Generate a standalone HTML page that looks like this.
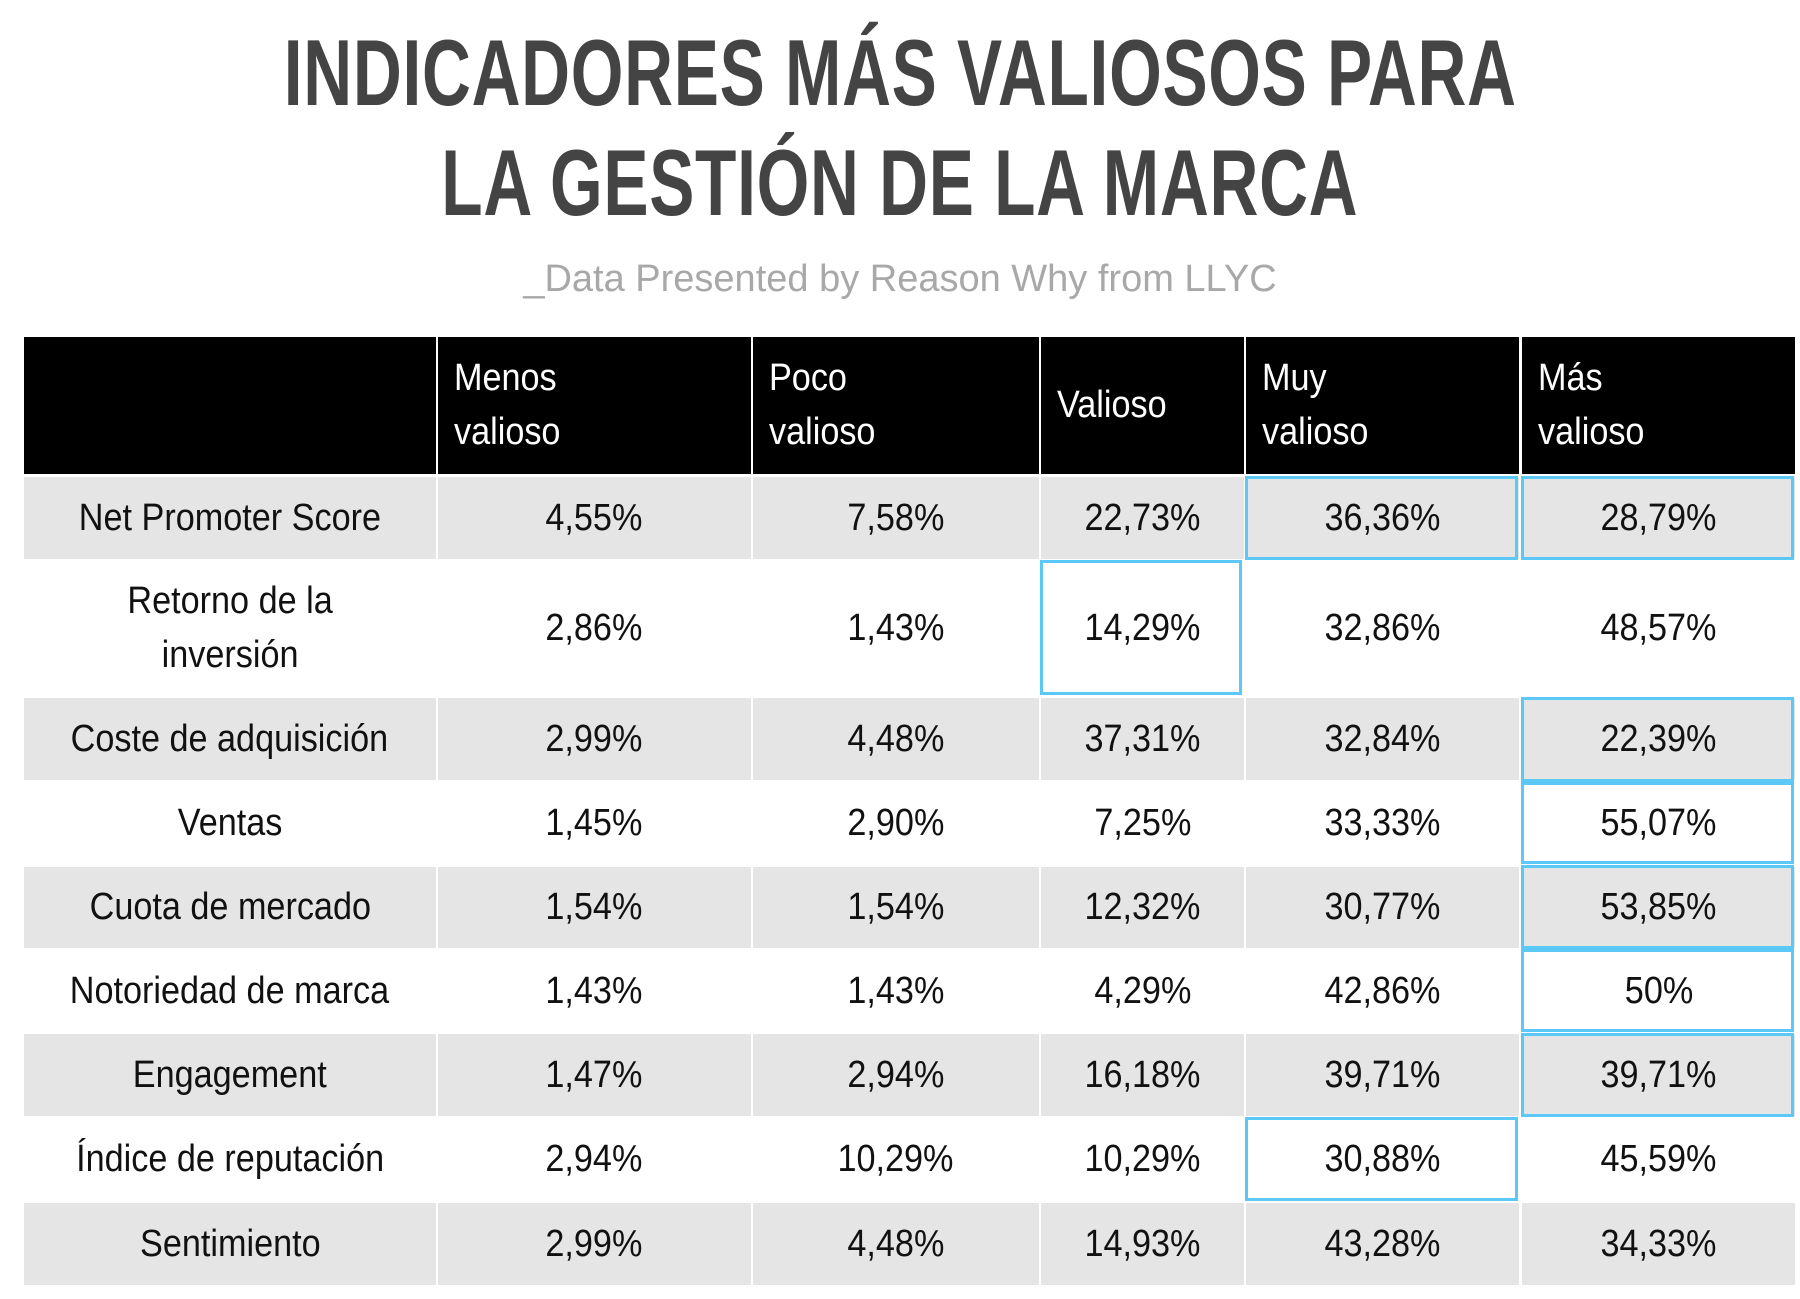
<!DOCTYPE html>
<html><head><meta charset="utf-8"><style>
html,body{margin:0;padding:0;background:#fff;}
#root{position:relative;width:1800px;height:1299px;overflow:hidden;font-family:"Liberation Sans",sans-serif;}
.t{position:absolute;left:0;width:1800px;text-align:center;color:#444;font-weight:bold;font-size:94px;line-height:94px;letter-spacing:1px;}
.t span{display:inline-block;transform:scaleX(0.72);transform-origin:center;}
.cell{position:absolute;box-sizing:border-box;display:flex;align-items:center;justify-content:center;text-align:center;color:#111;font-size:38px;line-height:54px;}
.cell span{display:inline-block;transform:scaleX(0.9);}
.hd{background:#000;color:#fff;justify-content:flex-start;text-align:left;padding-left:16px;}
.hd span{transform-origin:left center;}
.box{position:absolute;box-sizing:border-box;border:3px solid #5bc8f5;}
</style></head><body>
<div id="root">
<div class="t" style="top:26px"><span>INDICADORES MÁS VALIOSOS PARA</span></div>
<div class="t" style="top:136px"><span>LA GESTIÓN DE LA MARCA</span></div>
<div style="position:absolute;top:258px;left:0;width:1800px;text-align:center;color:#a8a8a8;font-size:38px;">_Data Presented by Reason Why from LLYC</div>
</div>
<script>
const headers=["","Menos<br>valioso","Poco<br>valioso","Valioso","Muy<br>valioso","Más<br>valioso"];
const rowLabels=["Net Promoter Score","Retorno de la<br>inversión","Coste de adquisición","Ventas","Cuota de mercado","Notoriedad de marca","Engagement","Índice de reputación","Sentimiento"];
const colMenos=["4,55%","2,86%","2,99%","1,45%","1,54%","1,43%","1,47%","2,94%","2,99%"];
const colPoco=["7,58%","1,43%","4,48%","2,90%","1,54%","1,43%","2,94%","10,29%","4,48%"];
const colValioso=["22,73%","14,29%","37,31%","7,25%","12,32%","4,29%","16,18%","10,29%","14,93%"];
const colMuy=["36,36%","32,86%","32,84%","33,33%","30,77%","42,86%","39,71%","30,88%","43,28%"];
const colMas=["28,79%","48,57%","22,39%","55,07%","53,85%","50%","39,71%","45,59%","34,33%"];
const highlights=[[0,4],[0,5],[1,3],[2,5],[3,5],[4,5],[5,5],[6,5],[7,4]];
const S=1.1494;
const colX=[[21,379],[381,653],[655,904],[906,1082],[1084,1322],[1324,1562]];
const rowY=[[293,412],[415,486],[488,604],[607,679],[681,751],[754,825],[827,897],[900,971],[973,1044],[1047,1118]];
const root=document.getElementById('root');
const cols=[rowLabels,colMenos,colPoco,colValioso,colMuy,colMas];
function place(el,x0,x1,y0,y1){el.style.left=(x0*S)+'px';el.style.top=(y0*S)+'px';el.style.width=((x1-x0)*S)+'px';el.style.height=((y1-y0)*S)+'px';}
for(let c=0;c<6;c++){
  const h=document.createElement('div');
  h.className='cell hd';
  
  
  h.innerHTML='<span>'+headers[c]+'</span>';
  place(h,colX[c][0],colX[c][1],rowY[0][0],rowY[0][1]);
  root.appendChild(h);
}
for(let r=0;r<rowLabels.length;r++){
  for(let c=0;c<6;c++){
    const d=document.createElement('div');
    d.className='cell';
    
    
    d.style.background=(r%2===0)?'#e5e5e5':'#fff';
    d.innerHTML='<span>'+cols[c][r]+'</span>';
    place(d,colX[c][0],colX[c][1],rowY[r+1][0],rowY[r+1][1]);
    root.appendChild(d);
  }
}
for(const [r,c] of highlights){
  const b=document.createElement('div');
  b.className='box';
  
  
  place(b,colX[c][0]-1,colX[c][1]-1,rowY[r+1][0]-1,rowY[r+1][1]+1);
  root.appendChild(b);
}
</script>
</body></html>
